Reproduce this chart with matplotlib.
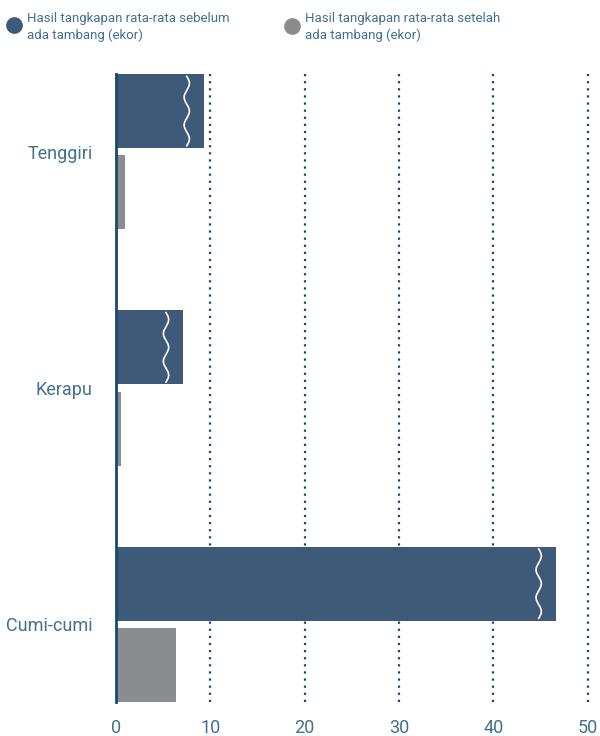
import numpy as np
import matplotlib
matplotlib.use("Agg")
import matplotlib.pyplot as plt
from matplotlib.lines import Line2D

plt.rcParams['font.family'] = ['Roboto', 'DejaVu Sans']

# data
categories = ["Tenggiri", "Kerapu", "Cumi-cumi"]
before = [9.3, 7.1, 46.6]   # sebelum ada tambang
after = [1.0, 0.5, 6.35]    # setelah ada tambang
xticks = [0, 10, 20, 30, 40, 50]
legend_labels = ["Hasil tangkapan rata-rata sebelum\nada tambang (ekor)",
                 "Hasil tangkapan rata-rata setelah\nada tambang (ekor)"]

blue = "#3e5a78"
grey = "#8a8c8f"
teal = "#174a68"
text_c = "#427190"

fig = plt.figure(figsize=(6, 7.36), dpi=100)
ax = fig.add_axes([116/600, 1-702/736, 484/600, 628/736])

y = np.arange(len(categories))
h = 0.314
off = 0.172
ax.barh(y - off, before, height=h, color=blue, zorder=3)
ax.barh(y + off, after, height=h, color=grey, zorder=3)

# wavy "break" marks near the end of the blue bars
t = np.linspace(0, 1, 200)
for yi, v in zip(y, before):
    wx = v - 1.8 + 0.28 * np.sin(2 * np.pi * 2.5 * t)
    wy = yi - off - h / 2 + 0.01 + t * (h - 0.02)
    ax.plot(wx, wy, color="white", lw=1.2, zorder=4)

ax.set_xlim(0, 51.3)
ax.set_ylim(2 + off + h / 2, -off - h / 2)

for xv in xticks[1:]:
    ax.axvline(xv, color=teal, ls=(0, (1, 2.2)), lw=1.6, zorder=1)

for s in ["top", "right", "bottom"]:
    ax.spines[s].set_visible(False)
ax.spines["left"].set_color(teal)
ax.spines["left"].set_linewidth(2)
ax.spines["left"].set_zorder(5)

ax.set_xticks(xticks)
ax.set_yticks(y)
ax.set_yticklabels(categories)
ax.tick_params(axis="both", length=0, labelsize=13, labelcolor=text_c)
ax.tick_params(axis="x", pad=12)
ax.tick_params(axis="y", pad=17)

# legend at top
for (lx, ly), lab, c in zip([(14, 25), (292, 26)], legend_labels, [blue, grey]):
    fig.add_artist(Line2D([lx/600], [1-ly/736], marker="o", markersize=11,
                          color=c, transform=fig.transFigure))
    fig.text((lx + 13)/600, 1-27/736, lab, fontsize=9.5, color=text_c,
             va="center", ha="left", linespacing=1.25)

fig.savefig("out.png", dpi=100)
